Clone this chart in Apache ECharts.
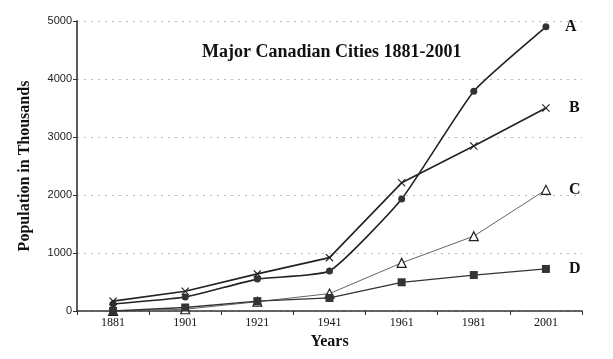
<!DOCTYPE html>
<html>
<head>
<meta charset="utf-8">
<script src="https://cdn.jsdelivr.net/npm/echarts@6/dist/echarts.min.js"></script>
<style>html,body{margin:0;padding:0;background:#fff}#c{width:613px;height:359px}</style>
</head>
<body>
<div id="c"></div>
<script>
var years = ['1881','1901','1921','1941','1961','1981','2001'];
var cityA = [120, 240, 550, 690, 1930, 3790, 4900];
var cityB = [170, 340, 640, 920, 2210, 2845, 3500];
var cityC = [0, 30, 160, 300, 830, 1290, 2090];
var cityD = [0, 60, 170, 225, 495, 620, 725];
var seriesNames = ['A','B','C','D'];
var yTicks = [0, 1000, 2000, 3000, 4000, 5000];

var serif = '"Liberation Serif", "Times New Roman", serif';
var xPath = 'path://M0,1L1,0L5,4L9,0L10,1L6,5L10,9L9,10L5,6L1,10L0,9L4,5Z';

function endLbl(dist){
  return {show:true, formatter:'{a}', fontFamily:serif, fontWeight:'bold', fontSize:16, color:'#111', distance:dist};
}

var chart = echarts.init(document.getElementById('c'), null, {renderer:'canvas'});
chart.setOption({
  backgroundColor:'#fff',
  animation:false,
  title:{
    text:'Major Canadian Cities 1881-2001',
    left:197, top:38,
    textStyle:{fontFamily:serif, fontWeight:'bold', fontSize:18, color:'#111'}
  },
  grid:{left:77, right:31, top:21, bottom:48, containLabel:false},
  xAxis:{
    type:'category', data:years, boundaryGap:true,
    name:'Years', nameLocation:'middle', nameGap:21,
    nameTextStyle:{fontFamily:serif, fontWeight:'bold', fontSize:16, color:'#111'},
    axisLine:{lineStyle:{color:'#333', width:1.6}},
    axisTick:{show:true, length:4, lineStyle:{color:'#333'}},
    axisLabel:{fontFamily:serif, fontSize:12, color:'#111', margin:6}
  },
  yAxis:{
    type:'value', min:yTicks[0], max:yTicks[yTicks.length-1], interval:1000,
    name:'Population in Thousands', nameLocation:'middle', nameGap:44,
    nameTextStyle:{fontFamily:serif, fontWeight:'bold', fontSize:16, color:'#111'},
    axisLine:{show:true, lineStyle:{color:'#333', width:1.6}},
    axisTick:{show:true, length:4, lineStyle:{color:'#333'}},
    axisLabel:{fontFamily:'"Liberation Sans", Arial, sans-serif', fontSize:11, color:'#222', margin:5,
      formatter:function(v){return String(v);}},
    splitLine:{show:true, lineStyle:{color:'#bbb', type:[2,5], width:1}}
  },
  series:[
    {name:seriesNames[0], type:'line', data:cityA, smooth:0.15,
     symbol:'circle', symbolSize:7,
     lineStyle:{color:'#222', width:1.6}, itemStyle:{color:'#333'},
     endLabel:endLbl(19)},
    {name:seriesNames[1], type:'line', data:cityB,
     symbol:xPath, symbolSize:8,
     lineStyle:{color:'#222', width:1.6}, itemStyle:{color:'#222'},
     endLabel:endLbl(23)},
    {name:seriesNames[2], type:'line', data:cityC,
     symbol:'triangle', symbolSize:9,
     lineStyle:{color:'#666', width:1}, itemStyle:{color:'#fff', borderColor:'#222', borderWidth:1.2},
     endLabel:endLbl(23)},
    {name:seriesNames[3], type:'line', data:cityD,
     symbol:'rect', symbolSize:8,
     lineStyle:{color:'#333', width:1.3}, itemStyle:{color:'#333'},
     endLabel:endLbl(23)}
  ]
});
</script>
</body>
</html>
